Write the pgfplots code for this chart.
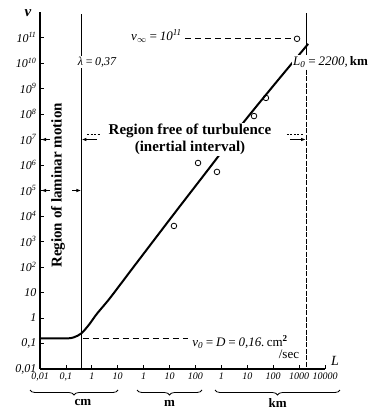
\documentclass[border=0pt]{standalone}
\usepackage{fontspec}
\setmainfont{Liberation Serif}
\usepackage{pgfplots}
\pgfplotsset{compat=1.18}
\usetikzlibrary{decorations.pathreplacing,arrows.meta}

\begin{document}
\begin{tikzpicture}
\begin{axis}[
  scale only axis, width=285pt, height=357pt,
  xmin=-2, xmax=9, ymin=-2, ymax=12,
  axis lines=left, axis line style={line width=1.1pt, -},
  xtick={-2,-1,0,1,2,3,4,5,6,7,8,9},
  ytick={-2,-1,0,1,2,3,4,5,6,7,8,9,10,11},
  xticklabels={0{,}01,0{,}1,1,10,1,10,100,1,10,100,1000,10000},
  yticklabels={0{,}01,0{,}1,1,10,10\textsuperscript{2},10\textsuperscript{3},10\textsuperscript{4},10\textsuperscript{5},10\textsuperscript{6},10\textsuperscript{7},10\textsuperscript{8},10\textsuperscript{9},10\textsuperscript{10},10\textsuperscript{11}},
  tick align=inside, major tick length=4pt,
  tick style={line width=0.8pt, black},
  xticklabel style={font=\itshape\fontsize{10}{10}\selectfont, inner xsep=0pt},
  yticklabel style={font=\itshape\fontsize{12}{12}\selectfont},
  clip=false,
]
% bounding box corners
\coordinate (bl) at (axis cs:-3.544,-3.608);
\coordinate (tr) at (axis cs:11.239,12.471);

% vertical boundary lines
\draw[line width=0.8pt] (axis cs:-0.40,-2) -- (axis cs:-0.40,11.92);
\draw[line width=0.8pt] (axis cs:8.27,11.96) -- (axis cs:8.27,10.0);
\draw[line width=0.6pt, dash pattern=on 5pt off 1.5pt] (axis cs:8.27,10.0) -- (axis cs:8.27,-2);

% dashed reference levels
\draw[line width=0.8pt, dash pattern=on 6pt off 4pt] (axis cs:-0.35,-0.8) -- (axis cs:3.71,-0.8);
\draw[line width=0.8pt, dash pattern=on 6pt off 4pt] (axis cs:3.6,10.95) -- (axis cs:7.78,10.95);

% main curve
\addplot[line width=2pt, smooth, tension=0.5] coordinates {
  (-2,-0.8) (-1.0,-0.8) (-0.7,-0.76) (-0.4,-0.6) (-0.1,-0.25) (0.2,0.17)
  (0.7,0.78) (1.55,1.92) (3.2,4.12) (4.83,6.27) (5.8,7.6) (7.0,9.1) (8.35,10.75)
};

% region text (covers the curve)
\node[fill=white, inner sep=1pt, align=center, font=\bfseries\fontsize{15}{17}\selectfont]
  at (axis cs:3.79,7.0) {Region free of turbulence\\(inertial interval)};
\node[rotate=90, font=\bfseries\fontsize{15}{17}\selectfont]
  at (axis cs:-1.305,5.2) {Region of laminar motion};

% observations
\addplot[only marks, mark=o, mark size=2.8pt, line width=0.8pt, mark options={fill=white}] coordinates {
  (7.92,10.95) (6.72,8.63) (6.26,7.92) (4.10,6.08) (4.83,5.73) (3.17,3.61)
};

% arrows
\draw[line width=1pt, -{Latex[length=5pt,width=3.5pt]}] (axis cs:-1.614,7) -- (axis cs:-1.961,7);
\draw[line width=1pt, -{Latex[length=5pt,width=3.5pt]}] (axis cs:0.2,7) -- (axis cs:-0.40,7);
\draw[line width=1pt, -{Latex[length=5pt,width=3.5pt]}] (axis cs:7.649,7) -- (axis cs:8.27,7);
\draw[line width=1pt, -{Latex[length=5pt,width=3.5pt]}] (axis cs:-1.614,5) -- (axis cs:-1.961,5);
\draw[line width=1pt, -{Latex[length=5pt,width=3.5pt]}] (axis cs:-0.765,5) -- (axis cs:-0.40,5);
\draw[line width=0.5pt, dash pattern=on 2pt off 1.5pt] (axis cs:-0.186,7.2) -- (axis cs:0.316,7.2);
\draw[line width=0.5pt, dash pattern=on 2pt off 1.5pt] (axis cs:7.533,7.2) -- (axis cs:8.151,7.2);

% labels
\node[fill=white, inner sep=1pt, font=\itshape\fontsize{12}{12}\selectfont] at (axis cs:0.2,10.04) {λ\,=\,0,37};
\node[fill=white, inner sep=1pt, anchor=west, font=\fontsize{13}{13}\selectfont] at (axis cs:7.726,10.04) {\textit{L\textsubscript{0}\,=\,2200,}\,\textbf{km}};
\node[anchor=east, inner sep=1pt, font=\itshape\fontsize{13}{13}\selectfont] at (axis cs:3.519,11.06) {ν\textsubscript{$\infty$}\,=\,10\textsuperscript{11}};
\node[anchor=west, inner sep=1pt, font=\fontsize{13}{13}\selectfont] at (axis cs:3.83,-0.94) {\textit{ν\textsubscript{0}\,=\,D\,=\,0,16.}\,cm\textsuperscript{\textbf{2}}};
\node[inner sep=1pt, font=\fontsize{13}{13}\selectfont] at (axis cs:7.61,-1.41) {/sec};
\node[font=\bfseries\itshape\fontsize{15}{15}\selectfont] at (axis cs:-2.463,11.96) {ν};
\node[font=\itshape\fontsize{14}{14}\selectfont] at (axis cs:9.386,-1.686) {L};

% unit braces
\draw[decorate, decoration={brace, mirror, amplitude=5pt}, line width=0.8pt] (axis cs:-2.386,-2.824) -- (axis cs:1.011,-2.824);
\draw[decorate, decoration={brace, mirror, amplitude=5pt}, line width=0.8pt] (axis cs:1.744,-2.824) -- (axis cs:4.253,-2.824);
\draw[decorate, decoration={brace, mirror, amplitude=5pt}, line width=0.8pt] (axis cs:4.754,-2.824) -- (axis cs:9.579,-2.824);
\node[font=\bfseries\fontsize{13}{13}\selectfont] at (axis cs:-0.34,-3.333) {cm};
\node[font=\bfseries\fontsize{13}{13}\selectfont] at (axis cs:3.0,-3.333) {m};
\node[font=\bfseries\fontsize{13}{13}\selectfont] at (axis cs:7.17,-3.333) {km};
\end{axis}
\pgfresetboundingbox
\useasboundingbox (bl) rectangle (tr);
\end{tikzpicture}
\end{document}
